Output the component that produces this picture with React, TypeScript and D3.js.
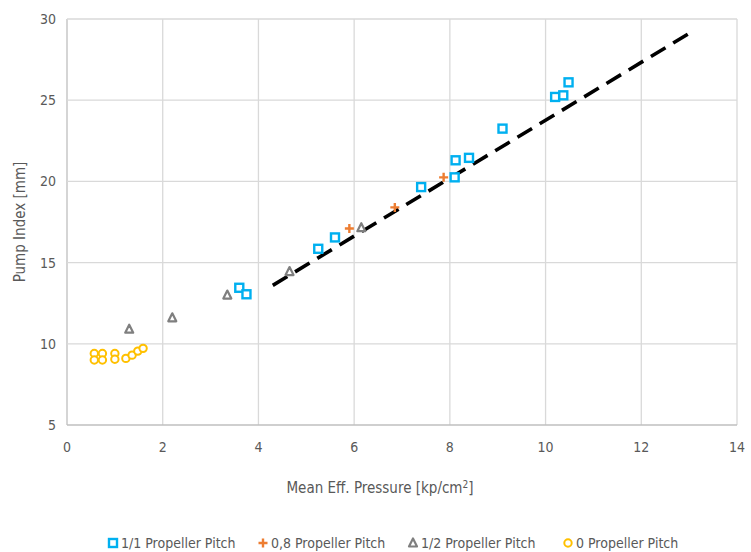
import React from 'react';
import * as d3 from 'd3';

// 1/1 propeller pitch
const fullX = [3.6, 3.75, 5.25, 5.6, 7.4, 8.1, 8.12, 8.4, 9.1, 10.2, 10.37, 10.48];
const fullY = [13.45, 13.05, 15.85, 16.55, 19.65, 20.25, 21.3, 21.45, 23.25, 25.2, 25.3, 26.1];
// 0,8 propeller pitch
const eightX = [5.9, 6.85, 7.87];
const eightY = [17.1, 18.4, 20.25];
// 1/2 propeller pitch
const halfX = [1.3, 2.2, 3.35, 4.65, 6.15];
const halfY = [10.9, 11.6, 13.0, 14.45, 17.15];
// 0 propeller pitch
const zeroX = [0.57, 0.57, 0.74, 0.74, 1.0, 1.0, 1.23, 1.36, 1.48, 1.59];
const zeroY = [9.4, 9.0, 9.4, 9.0, 9.4, 9.05, 9.1, 9.3, 9.55, 9.72];
// trend line end points
const trendX = [4.3, 13.02];
const trendY = [13.6, 29.15];

const xTicks = [0, 2, 4, 6, 8, 10, 12, 14];
const yTicks = [5, 10, 15, 20, 25, 30];

const legendLabels = ['1/1 Propeller Pitch', '0,8 Propeller Pitch', '1/2 Propeller Pitch', '0 Propeller Pitch'];

const W = 751;
const H = 552;
const margin = { top: 19, right: 14, bottom: 127, left: 67 };
const font = '"Liberation Sans Narrow", "DejaVu Sans Condensed", sans-serif';

const BLUE = '#00b0f0';
const ORANGE = '#ed7d31';
const GRAY = '#7f7f7f';
const YELLOW = '#ffc000';

const zip = (xs: number[], ys: number[]) => xs.map((x, i) => ({ x, y: ys[i] }));

const Square = ({ cx, cy }: { cx: number; cy: number }) => (
  <rect x={cx - 4} y={cy - 4} width={8} height={8} fill="white" stroke={BLUE} strokeWidth={2.4} />
);
const Plus = ({ cx, cy }: { cx: number; cy: number }) => (
  <path d={`M${cx - 4.5},${cy}H${cx + 4.5}M${cx},${cy - 4.5}V${cy + 4.5}`} stroke={ORANGE} strokeWidth={2.4} />
);
const Tri = ({ cx, cy }: { cx: number; cy: number }) => (
  <path d={`M${cx},${cy - 4.5}L${cx + 4},${cy + 3.5}L${cx - 4},${cy + 3.5}Z`} fill="white" stroke={GRAY} strokeWidth={2.2} strokeLinejoin="round" />
);
const Circ = ({ cx, cy }: { cx: number; cy: number }) => (
  <circle cx={cx} cy={cy} r={3.7} fill="white" stroke={YELLOW} strokeWidth={2} />
);

export default function App() {
  const x = d3.scaleLinear().domain([0, 14]).range([margin.left, W - margin.right]);
  const y = d3.scaleLinear().domain([5, 30]).range([H - margin.bottom, margin.top]);

  const trend = d3.line<{ x: number; y: number }>().x(d => x(d.x)).y(d => y(d.y))(zip(trendX, trendY)) || '';

  const legendItems = [
    { label: legendLabels[0], mx: 113, M: Square },
    { label: legendLabels[1], mx: 263, M: Plus },
    { label: legendLabels[2], mx: 413, M: Tri },
    { label: legendLabels[3], mx: 568, M: Circ },
  ];

  return (
    <svg width={W} height={H} style={{ position: 'absolute', left: 0, top: 0, background: 'white' }}>
      {/* grid */}
      {xTicks.map(t => (
        <line key={'gx' + t} x1={x(t)} x2={x(t)} y1={y(30)} y2={y(5)} stroke={t === 0 ? '#bfbfbf' : '#d9d9d9'} strokeWidth={1.3} />
      ))}
      {yTicks.map(t => (
        <line key={'gy' + t} x1={x(0)} x2={x(14)} y1={y(t)} y2={y(t)} stroke={t === 5 ? '#bfbfbf' : '#d9d9d9'} strokeWidth={1.3} />
      ))}

      {/* tick labels */}
      {xTicks.map(t => (
        <text key={'tx' + t} x={x(t)} y={y(5) + 27} textAnchor="middle" fontFamily={font} fontSize={14} fill="#595959">{t}</text>
      ))}
      {yTicks.map(t => (
        <text key={'ty' + t} x={x(0) - 11} y={y(t) + 5} textAnchor="end" fontFamily={font} fontSize={14} fill="#595959">{t}</text>
      ))}

      {/* axis titles */}
      <text x={380} y={493} textAnchor="middle" fontFamily={font} fontSize={15} fill="#595959">
        Mean Eff. Pressure [kp/cm<tspan dy={-5} fontSize={10}>2</tspan><tspan dy={5}>]</tspan>
      </text>
      <text transform={`translate(25,${y(17.5)}) rotate(-90)`} textAnchor="middle" fontFamily={font} fontSize={15} fill="#595959">
        Pump Index [mm]
      </text>

      {/* trend line */}
      <path d={trend} fill="none" stroke="black" strokeWidth={3.6} strokeDasharray="17,9" />

      {/* series */}
      {zip(zeroX, zeroY).map((d, i) => <Circ key={'z' + i} cx={x(d.x)} cy={y(d.y)} />)}
      {zip(halfX, halfY).map((d, i) => <Tri key={'h' + i} cx={x(d.x)} cy={y(d.y)} />)}
      {zip(eightX, eightY).map((d, i) => <Plus key={'e' + i} cx={x(d.x)} cy={y(d.y)} />)}
      {zip(fullX, fullY).map((d, i) => <Square key={'f' + i} cx={x(d.x)} cy={y(d.y)} />)}

      {/* legend */}
      {legendItems.map(({ label, mx, M }) => (
        <g key={label}>
          <M cx={mx} cy={543} />
          <text x={mx + 8} y={548} fontFamily={font} fontSize={14} fill="#595959">{label}</text>
        </g>
      ))}
    </svg>
  );
}
